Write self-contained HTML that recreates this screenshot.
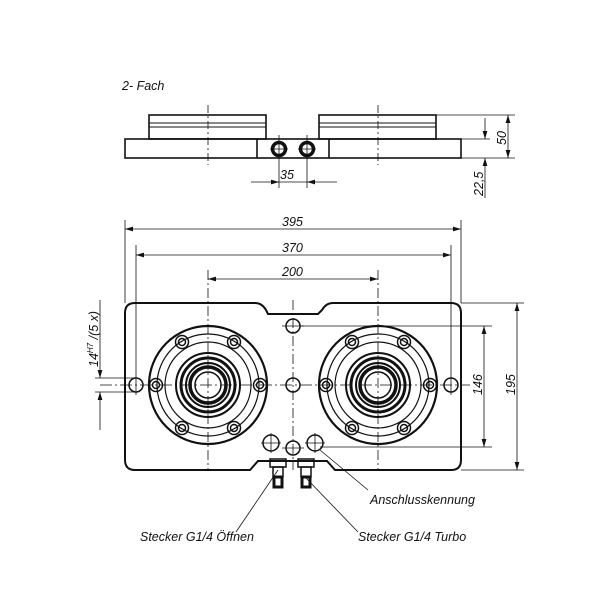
<!DOCTYPE html>
<html><head><style>body{margin:0;background:#fff}svg{display:block}text{font-family:"Liberation Sans",sans-serif;font-style:italic;font-size:12.5px;fill:#111}</style></head><body>
<svg width="600" height="600" viewBox="0 0 600 600" xmlns="http://www.w3.org/2000/svg">
<defs>
<marker id="a" viewBox="0 0 10 6" refX="10" refY="3" markerWidth="10" markerHeight="6" orient="auto-start-reverse"><path d="M0,0L10,3L0,6z" fill="#111"/></marker>
<g id="bh" stroke="#111" fill="none" stroke-width="1.5"><circle r="6.5"/><circle r="3.5"/></g>
<g id="chuck" stroke="#111" fill="none">
<circle r="59" stroke-width="2.2"/><circle r="51" stroke-width="1.2"/><circle r="43" stroke-width="1.2"/>
<circle r="32" stroke-width="2"/><circle r="27" stroke-width="3"/><circle r="22" stroke-width="2"/><circle r="18" stroke-width="3.5"/>
<circle r="13" fill="#fff" stroke-width="1.5"/>
<use href="#bh" x="-52" y="0"/><use href="#bh" x="52" y="0"/><use href="#bh" x="-26" y="-43"/><use href="#bh" x="26" y="-43"/><use href="#bh" x="-26" y="43"/><use href="#bh" x="26" y="43"/>
</g>
</defs>
<text x="122" y="90">2- Fach</text>
<g stroke="#111" fill="none" stroke-width="1.6">
<rect x="125" y="139" width="336" height="19"/>
<rect x="149" y="115" width="117" height="24"/><line x1="149" y1="123" x2="266" y2="123" stroke-width="1"/><line x1="149" y1="127" x2="266" y2="127" stroke-width="1"/>
<rect x="319" y="115" width="117" height="24"/><line x1="319" y1="123" x2="436" y2="123" stroke-width="1"/><line x1="319" y1="127" x2="436" y2="127" stroke-width="1"/>
<line x1="257" y1="139" x2="257" y2="158"/><line x1="329" y1="139" x2="329" y2="158"/>
<circle cx="279" cy="149" r="6.5" stroke-width="3.5"/><circle cx="307" cy="149" r="6.5" stroke-width="3.5"/>
</g>
<g stroke="#111" stroke-width="0.8" fill="none">
<line x1="208" y1="105" x2="208" y2="165" stroke-dasharray="8,3,2,3"/><line x1="378" y1="105" x2="378" y2="165" stroke-dasharray="8,3,2,3"/>
<line x1="279" y1="135" x2="279" y2="188"/><line x1="307" y1="135" x2="307" y2="188"/>
<line x1="270" y1="149" x2="288" y2="149"/><line x1="298" y1="149" x2="316" y2="149"/>
<line x1="251" y1="182" x2="279" y2="182" marker-end="url(#a)"/><line x1="307" y1="182" x2="337" y2="182" marker-start="url(#a)"/><line x1="279" y1="182" x2="307" y2="182"/>
<line x1="436" y1="115" x2="515" y2="115"/><line x1="461" y1="139" x2="490" y2="139"/><line x1="461" y1="158" x2="515" y2="158"/>
<line x1="508" y1="115" x2="508" y2="158" marker-start="url(#a)" marker-end="url(#a)"/>
<line x1="485" y1="118" x2="485" y2="139" marker-end="url(#a)"/><line x1="485" y1="198" x2="485" y2="158" marker-end="url(#a)"/>
</g>
<text x="280" y="179">35</text>
<text transform="translate(506,145) rotate(-90)">50</text>
<text transform="translate(483,196) rotate(-90)">22,5</text>
<path d="M135,303 H255 Q262,303 266,310 L268,314 H318 L322,310 Q326,303 333,303 H451 Q461,303 461,313 V460 Q461,470 451,470 H335 L327,461 H258 L250,470 H135 Q125,470 125,460 V313 Q125,303 135,303 Z" stroke="#111" stroke-width="2" fill="none"/>
<use href="#chuck" x="208" y="385"/><use href="#chuck" x="378" y="385"/>
<g stroke="#111" stroke-width="1.5" fill="none">
<circle cx="136" cy="385" r="7"/><circle cx="451" cy="385" r="7"/>
<circle cx="293" cy="326" r="7"/><circle cx="293" cy="385" r="7"/><circle cx="293" cy="448" r="7"/>
<circle cx="271" cy="443" r="8"/><circle cx="315" cy="443" r="8"/>
<rect x="270" y="459" width="16" height="8"/><rect x="298" y="459" width="16" height="8"/>
<rect x="273" y="467" width="10" height="10"/><rect x="301" y="467" width="10" height="10"/>
<rect x="274" y="477" width="8" height="10" stroke-width="3"/><rect x="302" y="477" width="8" height="10" stroke-width="3"/>
</g>
<g stroke="#111" stroke-width="0.8" fill="none">
<line x1="208" y1="270" x2="208" y2="470" stroke-dasharray="10,3,2,3"/><line x1="378" y1="270" x2="378" y2="470" stroke-dasharray="10,3,2,3"/>
<line x1="293" y1="300" x2="293" y2="470" stroke-dasharray="10,3,2,3"/>
<line x1="100" y1="385" x2="470" y2="385" stroke-dasharray="12,3,2,3"/>
<line x1="282" y1="326" x2="304" y2="326"/><line x1="282" y1="448" x2="304" y2="448"/><line x1="261" y1="443" x2="281" y2="443"/><line x1="271" y1="433" x2="271" y2="453"/><line x1="305" y1="443" x2="325" y2="443"/><line x1="315" y1="433" x2="315" y2="453"/>
<line x1="125" y1="220" x2="125" y2="303"/><line x1="461" y1="220" x2="461" y2="303"/>
<line x1="136" y1="245" x2="136" y2="395"/><line x1="451" y1="245" x2="451" y2="395"/>
<line x1="125" y1="229" x2="461" y2="229" marker-start="url(#a)" marker-end="url(#a)"/>
<line x1="136" y1="255" x2="451" y2="255" marker-start="url(#a)" marker-end="url(#a)"/>
<line x1="208" y1="279" x2="378" y2="279" marker-start="url(#a)" marker-end="url(#a)"/>
<line x1="300" y1="326" x2="492" y2="326"/><line x1="320" y1="447" x2="492" y2="447"/>
<line x1="461" y1="303" x2="524" y2="303"/><line x1="461" y1="470" x2="524" y2="470"/>
<line x1="484" y1="326" x2="484" y2="447" marker-start="url(#a)" marker-end="url(#a)"/>
<line x1="517" y1="303" x2="517" y2="470" marker-start="url(#a)" marker-end="url(#a)"/>
<line x1="100" y1="300" x2="100" y2="378" marker-end="url(#a)"/><line x1="100" y1="430" x2="100" y2="392" marker-end="url(#a)"/>
<line x1="95" y1="378" x2="136" y2="378"/><line x1="95" y1="392" x2="136" y2="392"/>
<line x1="278" y1="470" x2="236" y2="532"/><line x1="306" y1="478" x2="358" y2="532"/><line x1="320" y1="450" x2="368" y2="490"/>
</g>
<text x="282" y="226">395</text><text x="282" y="252">370</text><text x="282" y="276">200</text>
<text transform="translate(482,395) rotate(-90)">146</text>
<text transform="translate(515,395) rotate(-90)">195</text>
<text transform="translate(98,367) rotate(-90)">14<tspan font-size="8" dy="-5">H7</tspan><tspan dy="5"> /(5 x)</tspan></text>
<text x="370" y="504">Anschlusskennung</text>
<text x="140" y="541">Stecker G1/4 Öffnen</text>
<text x="358" y="541">Stecker G1/4 Turbo</text>
</svg>
</body></html>
